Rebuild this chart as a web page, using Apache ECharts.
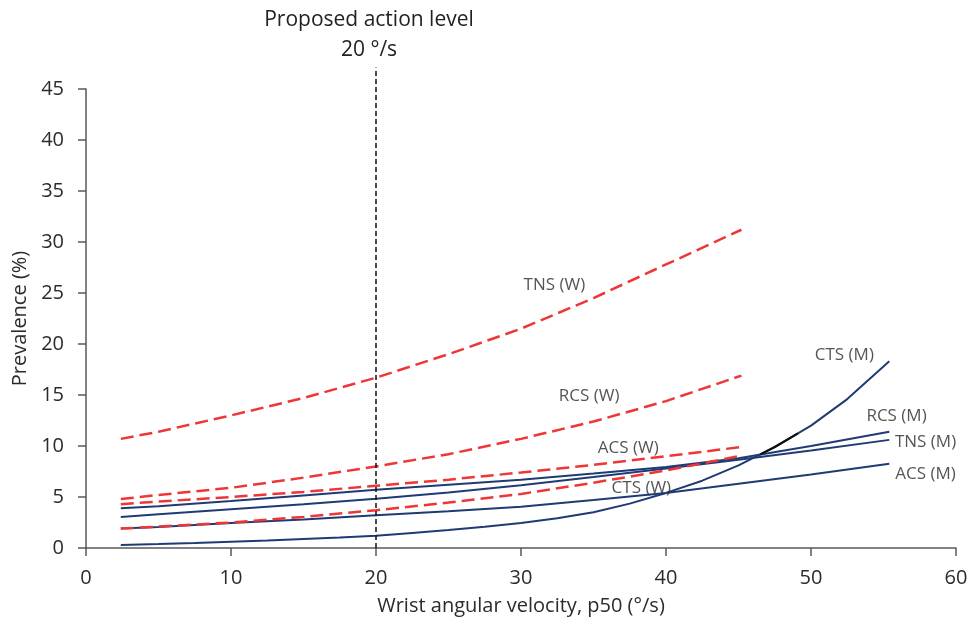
<!DOCTYPE html>
<html>
<head>
<meta charset="utf-8">
<script src="https://cdn.jsdelivr.net/npm/echarts@6/dist/echarts.min.js"></script>
<style>html,body{margin:0;padding:0;background:#fff}#c{width:971px;height:628px}</style>
</head>
<body>
<div id="c"></div>
<script>
// Women (W) series: red dashed
const xW = [2.4, 5, 10, 15, 20, 25, 30, 35, 40, 45.2];
const tnsW = [10.7, 11.4, 13.0, 14.7, 16.7, 19.0, 21.5, 24.5, 27.8, 31.2];
const rcsW = [4.8, 5.2, 5.9, 6.9, 8.0, 9.2, 10.7, 12.4, 14.4, 16.9];
const acsW = [4.3, 4.55, 5.0, 5.5, 6.1, 6.7, 7.4, 8.15, 9.0, 9.9];
const ctsW = [1.9, 2.1, 2.5, 3.05, 3.7, 4.45, 5.3, 6.4, 7.6, 9.05];

// Men (M) series: blue solid
const xM = [2.4, 5, 10, 15, 20, 25, 30, 35, 40, 45, 50, 55.4];
const rcsM = [3.9, 4.1, 4.6, 5.15, 5.7, 6.2, 6.7, 7.3, 7.95, 8.8, 10.0, 11.4];
const tnsM = [3.05, 3.3, 3.8, 4.3, 4.83, 5.45, 6.15, 6.95, 7.8, 8.65, 9.55, 10.6];
const acsM = [1.9, 2.05, 2.45, 2.8, 3.2, 3.6, 4.05, 4.7, 5.4, 6.3, 7.2, 8.25];
const xCtsM = [2.4, 5, 7.5, 10, 12.5, 15, 17.5, 20, 22.5, 25, 27.5, 30, 32.5, 35, 37.5, 40, 42.5, 45, 47.5, 50, 52.5, 55.4];
const ctsM = [0.3, 0.4, 0.5, 0.62, 0.74, 0.88, 1.03, 1.2, 1.48, 1.76, 2.08, 2.45, 2.92, 3.5, 4.35, 5.4, 6.6, 8.1, 9.9, 12.0, 14.6, 18.3];
// short black segment on CTS (M)
const xBlack = [46.5, 47.5, 49.1];
const yBlack = [9.18, 9.9, 11.24];

// curve labels
const labelNames = ['TNS (W)', 'RCS (W)', 'ACS (W)', 'CTS (W)', 'CTS (M)', 'RCS (M)', 'TNS (M)', 'ACS (M)'];
const labelX = [32.3, 34.7, 37.4, 38.3, 52.3, 55.9, 57.9, 57.9];
const labelY = [25.8, 14.9, 9.8, 5.9, 18.9, 12.9, 10.4, 7.2];

// action level
const actionX = 20;
const actionTop = 47.1;

const xTicks = [0, 60, 10];
const yTicks = [0, 45, 5];

const zip = (xs, ys) => xs.map((x, i) => [x, ys[i]]);
const BLUE = '#1f3b73';
const RED = '#ef3636';
const FONT = 'Open Sans';
const TXT = '#2b2b2b';

function mSeries(xs, ys) {
  return { type: 'line', data: zip(xs, ys), showSymbol: false, smooth: false,
    lineStyle: { color: BLUE, width: 2 }, z: 2, silent: true };
}
function wSeries(xs, ys) {
  return { type: 'line', data: zip(xs, ys), showSymbol: false, smooth: false,
    lineStyle: { color: RED, width: 2.5, type: [13, 6] }, z: 3, silent: true };
}

const chart = echarts.init(document.getElementById('c'), null, { renderer: 'canvas' });
const option = {
  animation: false,
  grid: { left: 86, right: 15, top: 89, bottom: 80 },
  xAxis: {
    type: 'value', min: xTicks[0], max: xTicks[1], interval: xTicks[2],
    name: 'Wrist angular velocity, p50 (°/s)', nameLocation: 'middle', nameGap: 48,
    nameTextStyle: { fontFamily: FONT, fontSize: 20, color: TXT },
    axisLine: { lineStyle: { color: '#595959', width: 1.5 } },
    axisTick: { show: true, length: 8, lineStyle: { color: '#595959', width: 1.5 } },
    axisLabel: { fontFamily: FONT, fontSize: 20, color: TXT, margin: 20 },
    splitLine: { show: false }
  },
  yAxis: {
    type: 'value', min: yTicks[0], max: yTicks[1], interval: yTicks[2],
    name: 'Prevalence (%)', nameLocation: 'middle', nameGap: 52,
    nameTextStyle: { fontFamily: FONT, fontSize: 20, color: TXT },
    axisLine: { show: true, lineStyle: { color: '#595959', width: 1.5 } },
    axisTick: { show: true, length: 8, lineStyle: { color: '#595959', width: 1.5 } },
    axisLabel: { fontFamily: FONT, fontSize: 20, color: TXT, margin: 22 },
    splitLine: { show: false }
  },
  series: [
    mSeries(xCtsM, ctsM),
    mSeries(xM, rcsM),
    mSeries(xM, tnsM),
    mSeries(xM, acsM),
    { type: 'line', data: zip(xBlack, yBlack), showSymbol: false, smooth: false,
      lineStyle: { color: '#111', width: 2.2 }, z: 4, silent: true },
    wSeries(xW, tnsW),
    wSeries(xW, rcsW),
    wSeries(xW, acsW),
    wSeries(xW, ctsW),
    { type: 'line', data: [[actionX, 0], [actionX, actionTop]], showSymbol: false, clip: false,
      lineStyle: { color: '#111', width: 1.5, type: [5, 3] }, z: 5, silent: true },
    { type: 'scatter', symbolSize: 0, silent: true, z: 6,
      data: labelNames.map((n, i) => ({ name: n, value: [labelX[i], labelY[i]] })),
      label: { show: true, position: 'inside', formatter: p => p.name,
        fontFamily: FONT, fontSize: 17, color: TXT } }
  ]
};
chart.setOption(option);
const ax = chart.convertToPixel({ xAxisIndex: 0 }, actionX) - 7;
chart.setOption({
  graphic: [
    { type: 'text', x: ax, y: 20, style: { text: 'Proposed action level', fontFamily: FONT, fontSize: 21,
      fill: '#222', align: 'center', verticalAlign: 'middle' } },
    { type: 'text', x: ax, y: 50, style: { text: '20 °/s', fontFamily: FONT, fontSize: 21,
      fill: '#222', align: 'center', verticalAlign: 'middle' } }
  ]
});
</script>
</body>
</html>
